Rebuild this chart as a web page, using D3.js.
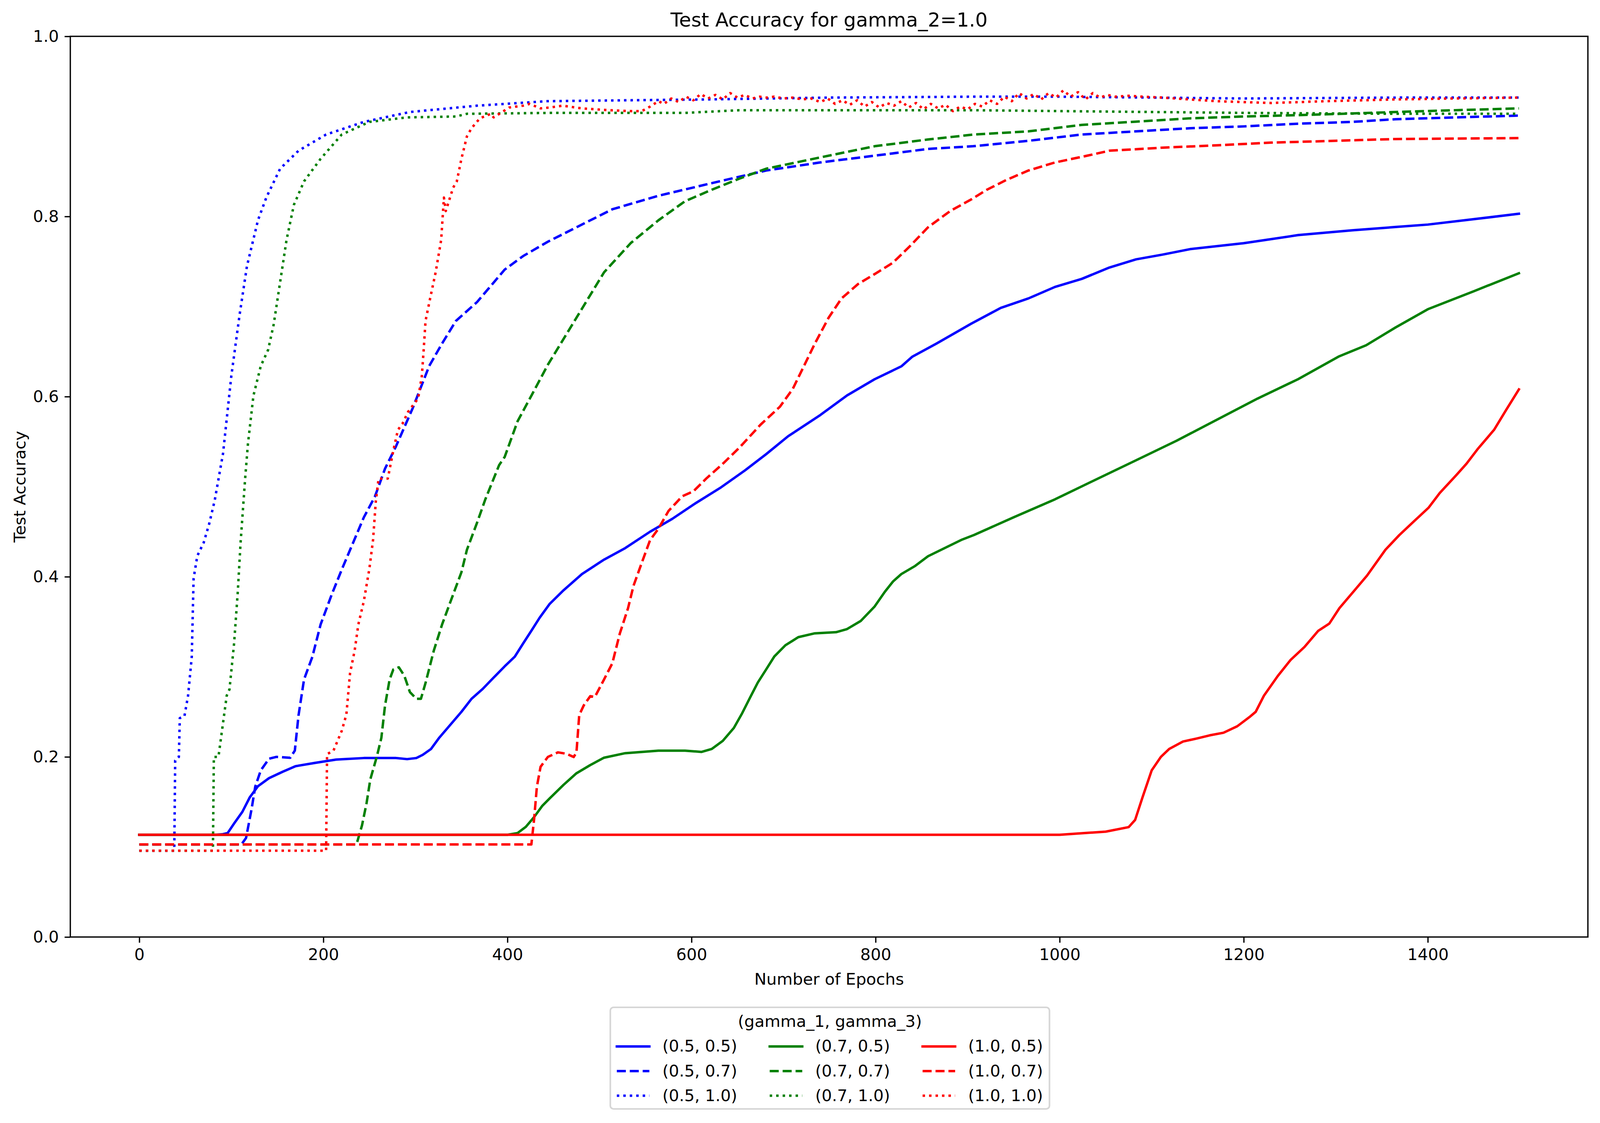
<!DOCTYPE html>
<html>
<head>
<meta charset="utf-8">
<script src="https://cdn.jsdelivr.net/npm/d3@7"></script>
<style>
  html, body { margin: 0; padding: 0; background: #fff; overflow: hidden; }
  svg { display: block; }
  text { font-family: "DejaVu Sans", sans-serif; }
</style>
</head>
<body>
<svg id="chart"></svg>
<script>
// epochs / accuracy, one pair per run
const ep_05_05 = [0, 82, 90, 96, 103, 112, 120, 129, 141, 156, 170, 191, 214, 244, 279, 291, 301, 308, 317, 326, 338, 350, 361, 373, 385, 397, 408, 417, 426, 435, 446, 461, 481, 505, 528, 555, 579, 605, 631, 658, 681, 705, 740, 769, 799, 828, 840, 866, 904, 936, 966, 995, 1024, 1054, 1083, 1112, 1142, 1200, 1259, 1318, 1365, 1400, 1450, 1499];
const acc_05_05 = [0.1135, 0.1135, 0.114, 0.1154, 0.126, 0.139, 0.155, 0.1675, 0.1764, 0.1836, 0.1897, 0.1933, 0.197, 0.1987, 0.1987, 0.1975, 0.1987, 0.2023, 0.2088, 0.2214, 0.2357, 0.25, 0.2645, 0.2753, 0.288, 0.3005, 0.3113, 0.3258, 0.34, 0.3545, 0.37, 0.385, 0.403, 0.419, 0.4318, 0.45, 0.4642, 0.482, 0.4985, 0.518, 0.536, 0.556, 0.5796, 0.6013, 0.6193, 0.6336, 0.6444, 0.6588, 0.681, 0.6985, 0.709, 0.7218, 0.7307, 0.7433, 0.7524, 0.7577, 0.7638, 0.7703, 0.7793, 0.7847, 0.7883, 0.791, 0.797, 0.803];

const ep_05_07 = [0, 111, 116, 122, 126, 132, 141, 149, 164, 169, 173, 179, 188, 197, 209, 220, 232, 244, 256, 267, 279, 297, 315, 329, 344, 367, 397, 417, 444, 475, 514, 564, 622, 681, 740, 799, 857, 906, 966, 1024, 1083, 1142, 1200, 1259, 1318, 1365, 1430, 1499];
const acc_05_07 = [0.1028, 0.1028, 0.11, 0.142, 0.167, 0.185, 0.198, 0.2, 0.199, 0.207, 0.246, 0.286, 0.311, 0.347, 0.38, 0.408, 0.437, 0.466, 0.489, 0.52, 0.545, 0.587, 0.634, 0.659, 0.684, 0.705, 0.741, 0.756, 0.772, 0.788, 0.808, 0.823, 0.837, 0.851, 0.86, 0.8675, 0.875, 0.878, 0.884, 0.891, 0.8945, 0.898, 0.9, 0.903, 0.905, 0.908, 0.91, 0.912];

const ep_05_10 = [0, 38, 39, 43, 44, 49, 53, 57, 59, 63, 70, 76, 82, 91, 100, 109, 117, 129, 138, 153, 173, 203, 244, 294, 367, 443, 530, 622, 750, 905, 1000, 1100, 1200, 1366, 1499];
const acc_05_10 = [0.0958, 0.0958, 0.196, 0.2, 0.243, 0.245, 0.268, 0.311, 0.398, 0.423, 0.438, 0.459, 0.485, 0.537, 0.623, 0.691, 0.745, 0.796, 0.821, 0.853, 0.873, 0.891, 0.905, 0.916, 0.923, 0.928, 0.929, 0.93, 0.932, 0.933, 0.933, 0.932, 0.931, 0.932, 0.932];

const ep_07_05 = [0, 400, 411, 420, 429, 438, 446, 461, 475, 490, 505, 528, 564, 593, 611, 622, 634, 646, 655, 663, 672, 681, 690, 702, 716, 734, 757, 769, 784, 799, 810, 819, 828, 843, 857, 875, 893, 907, 951, 995, 1039, 1083, 1127, 1171, 1215, 1259, 1303, 1333, 1365, 1400, 1450, 1499];
const acc_07_05 = [0.1135, 0.1135, 0.1154, 0.1223, 0.1332, 0.1458, 0.154, 0.169, 0.1818, 0.1909, 0.1991, 0.2041, 0.2069, 0.2069, 0.2055, 0.2088, 0.2178, 0.2321, 0.2484, 0.2646, 0.2825, 0.2969, 0.3115, 0.3239, 0.3329, 0.3372, 0.3384, 0.3419, 0.351, 0.367, 0.3832, 0.3948, 0.403, 0.412, 0.4228, 0.4318, 0.4408, 0.4464, 0.4664, 0.486, 0.5077, 0.5293, 0.551, 0.5744, 0.5978, 0.6193, 0.6444, 0.657, 0.6768, 0.697, 0.717, 0.737];

const ep_07_07 = [0, 236, 242, 247, 251, 258, 263, 267, 272, 276, 282, 288, 294, 301, 306, 311, 320, 329, 338, 350, 356, 367, 376, 391, 397, 411, 426, 444, 475, 505, 534, 564, 593, 622, 652, 681, 740, 799, 857, 907, 966, 1024, 1083, 1142, 1200, 1259, 1318, 1365, 1430, 1499];
const acc_07_07 = [0.1028, 0.1028, 0.124, 0.149, 0.175, 0.2, 0.221, 0.257, 0.286, 0.297, 0.2995, 0.29, 0.272, 0.2645, 0.2645, 0.282, 0.318, 0.347, 0.372, 0.405, 0.43, 0.46, 0.486, 0.524, 0.533, 0.5726, 0.601, 0.6355, 0.6876, 0.738, 0.7705, 0.7957, 0.817, 0.8297, 0.842, 0.853, 0.8656, 0.878, 0.8855, 0.891, 0.8945, 0.9017, 0.9053, 0.909, 0.911, 0.9125, 0.9144, 0.916, 0.918, 0.92];

const ep_07_10 = [0, 80, 81, 86, 95, 98, 103, 107, 110, 115, 118, 124, 132, 140, 146, 153, 160, 168, 179, 197, 220, 250, 291, 344, 356, 446, 593, 652, 780, 905, 1000, 1100, 1200, 1366, 1499];
const acc_07_10 = [0.0958, 0.0958, 0.2, 0.2, 0.268, 0.275, 0.326, 0.383, 0.437, 0.509, 0.547, 0.601, 0.634, 0.652, 0.68, 0.727, 0.774, 0.813, 0.839, 0.864, 0.891, 0.905, 0.91, 0.911, 0.914, 0.915, 0.915, 0.918, 0.918, 0.918, 0.917, 0.916, 0.915, 0.914, 0.914];

const ep_10_05 = [0, 1000, 1050, 1075, 1082, 1090, 1100, 1110, 1119, 1134, 1149, 1163, 1178, 1193, 1207, 1213, 1222, 1237, 1251, 1266, 1281, 1293, 1304, 1319, 1334, 1354, 1369, 1384, 1401, 1413, 1431, 1442, 1454, 1472, 1485, 1499];
const acc_10_05 = [0.1135, 0.1135, 0.117, 0.122, 0.13, 0.155, 0.185, 0.2, 0.2088, 0.217, 0.2204, 0.2239, 0.2268, 0.234, 0.2448, 0.25, 0.268, 0.2898, 0.3077, 0.322, 0.34, 0.348, 0.3652, 0.3832, 0.4013, 0.43, 0.4462, 0.4606, 0.4768, 0.493, 0.5128, 0.5254, 0.5415, 0.5631, 0.585, 0.608];

const ep_10_07 = [0, 426, 429, 432, 436, 444, 455, 464, 472, 475, 478, 483, 490, 495, 505, 514, 522, 531, 537, 546, 555, 564, 575, 590, 602, 616, 634, 652, 675, 696, 710, 722, 734, 749, 763, 781, 799, 819, 837, 857, 881, 904, 921, 942, 966, 995, 1030, 1054, 1112, 1171, 1230, 1289, 1365, 1430, 1499];
const acc_10_07 = [0.1028, 0.1028, 0.131, 0.167, 0.189, 0.2, 0.205, 0.2035, 0.1998, 0.205, 0.2464, 0.2573, 0.2674, 0.2665, 0.286, 0.304, 0.3366, 0.365, 0.39, 0.4156, 0.4407, 0.4533, 0.473, 0.4894, 0.4948, 0.509, 0.5254, 0.5433, 0.5688, 0.5887, 0.6085, 0.6336, 0.6588, 0.6876, 0.709, 0.725, 0.736, 0.7488, 0.7667, 0.788, 0.806, 0.819, 0.8297, 0.8405, 0.851, 0.86, 0.8675, 0.873, 0.8764, 0.879, 0.882, 0.8837, 0.886, 0.8865, 0.887];

const ep_10_10 = [0, 203, 204, 211, 220, 225, 229, 234, 238, 244, 250, 254, 257, 260, 263, 270, 276, 281, 286, 292, 303, 307, 309, 311, 316, 322, 328, 331, 333, 341, 345, 350, 356, 361, 370, 382, 385, 402, 417, 424, 436, 446, 460, 481, 510, 534, 546, 555, 564,
  570, 578, 586, 594, 602, 610, 618, 626, 634, 642, 650, 658, 666, 674, 682, 690, 700, 710, 720, 730, 740, 748, 756, 764, 772, 780, 788, 796, 804, 812, 820, 828, 836, 844, 852, 860, 868, 876, 884, 892, 900, 908, 916, 924, 932, 940, 948, 956, 964, 972, 980, 988, 996, 1004, 1012, 1020, 1028, 1036, 1044, 1052, 1060,
  1075, 1090, 1112, 1140, 1171, 1200, 1230, 1260, 1288, 1330, 1366, 1430, 1499];
const acc_10_10 = [0.0958, 0.0958, 0.203, 0.207, 0.229, 0.247, 0.293, 0.318, 0.347, 0.373, 0.409, 0.441, 0.484, 0.509, 0.509, 0.509, 0.54, 0.563, 0.57, 0.583, 0.598, 0.623, 0.652, 0.684, 0.709, 0.738, 0.774, 0.821, 0.806, 0.832, 0.839, 0.864, 0.889, 0.898, 0.909, 0.914, 0.91, 0.921, 0.923, 0.925, 0.92, 0.921, 0.923, 0.92, 0.918, 0.917, 0.917, 0.922, 0.928,
  0.925, 0.931, 0.927, 0.933, 0.929, 0.936, 0.931, 0.935, 0.93, 0.937, 0.932, 0.935, 0.931, 0.933, 0.932, 0.933, 0.931, 0.932, 0.93, 0.931, 0.927, 0.931, 0.925, 0.929, 0.924, 0.929, 0.922, 0.927, 0.921, 0.926, 0.923, 0.928, 0.921, 0.926, 0.919, 0.925, 0.92, 0.924, 0.917, 0.922, 0.919, 0.925, 0.922, 0.929, 0.925, 0.933, 0.928, 0.937, 0.931, 0.936, 0.93, 0.937, 0.932, 0.94, 0.933, 0.938, 0.93, 0.937, 0.932, 0.935, 0.933,
  0.934, 0.933, 0.932, 0.93, 0.928, 0.927, 0.926, 0.927, 0.928, 0.929, 0.93, 0.931, 0.932];

const labels = ["(0.5, 0.5)", "(0.5, 0.7)", "(0.5, 1.0)", "(0.7, 0.5)", "(0.7, 0.7)", "(0.7, 1.0)", "(1.0, 0.5)", "(1.0, 0.7)", "(1.0, 1.0)"];
const epochList = [ep_05_05, ep_05_07, ep_05_10, ep_07_05, ep_07_07, ep_07_10, ep_10_05, ep_10_07, ep_10_10];
const accList = [acc_05_05, acc_05_07, acc_05_10, acc_07_05, acc_07_07, acc_07_10, acc_10_05, acc_10_07, acc_10_10];
const xTicks = [0, 200, 400, 600, 800, 1000, 1200, 1400];
const yTicks = [0.0, 0.2, 0.4, 0.6, 0.8, 1.0];

// styles (matplotlib look: lw 1.5pt at 300 dpi)
const colorOf = ["#0000ff", "#0000ff", "#0000ff", "#008000", "#008000", "#008000", "#ff0000", "#ff0000", "#ff0000"];
const dashOf = [null, "23.1,10", "6.25,10.3", null, "23.1,10", "6.25,10.3", null, "23.1,10", "6.25,10.3"];

(function () {
  // fit the real viewport; margins kept in px like the reference figure
  var W = window.innerWidth || document.documentElement.clientWidth || 4864;
  var H = window.innerHeight || document.documentElement.clientHeight || 2874;
  var sy = H / 2874;
  var pL = 180, pR = W - 31, pT = 93 * sy, pB = 2398 * sy;
  var fs = 41.67, lw = 6.25, tick = 14.6;

  var svg = d3.select('#chart').attr('width', W).attr('height', H);
  svg.append('rect').attr('width', W).attr('height', H).attr('fill', '#fff');

  var x = d3.scaleLinear().domain([-74.95, 1573.95]).range([pL, pR]);
  var y = d3.scaleLinear().domain([0, 1]).range([pB, pT]);

  svg.append('clipPath').attr('id', 'clip')
    .append('rect').attr('x', pL).attr('y', pT).attr('width', pR - pL).attr('height', pB - pT);

  var line = d3.line().x(function (d) { return x(d[0]); }).y(function (d) { return y(d[1]); });

  var g = svg.append('g').attr('clip-path', 'url(#clip)');
  epochList.forEach(function (ep, i) {
    var pts = ep.map(function (e, j) { return [e, accList[i][j]]; });
    g.append('path')
      .attr('d', line(pts))
      .attr('fill', 'none')
      .attr('stroke', colorOf[i])
      .attr('stroke-width', lw)
      .attr('stroke-linejoin', 'round')
      .attr('stroke-linecap', dashOf[i] ? 'butt' : 'square')
      .attr('stroke-dasharray', dashOf[i]);
  });

  // axes
  var xAxis = svg.append('g').attr('transform', 'translate(0,' + pB + ')')
    .call(d3.axisBottom(x).tickValues(xTicks).tickSize(tick).tickPadding(tick).tickFormat(d3.format('d')));
  var yAxis = svg.append('g').attr('transform', 'translate(' + pL + ',0)')
    .call(d3.axisLeft(y).tickValues(yTicks).tickSize(tick).tickPadding(tick).tickFormat(d3.format('.1f')));
  [xAxis, yAxis].forEach(function (a) {
    a.select('.domain').remove();
    a.selectAll('line').attr('stroke', '#000').attr('stroke-width', 3.33);
    a.selectAll('text').attr('font-size', fs).attr('fill', '#000').style('font-family', '"DejaVu Sans"');
  });

  svg.append('rect')
    .attr('x', pL).attr('y', pT).attr('width', pR - pL).attr('height', pB - pT)
    .attr('fill', 'none').attr('stroke', '#000').attr('stroke-width', 3.33);

  // titles
  var cx = (pL + pR) / 2;
  svg.append('text').attr('x', cx).attr('y', pT - 25).attr('text-anchor', 'middle')
    .attr('font-size', 50).text('Test Accuracy for gamma_2=1.0');
  svg.append('text').attr('x', cx).attr('y', pB + 122).attr('text-anchor', 'middle')
    .attr('font-size', fs).text('Number of Epochs');
  svg.append('text').attr('transform', 'translate(65,' + ((pT + pB) / 2) + ') rotate(-90)')
    .attr('text-anchor', 'middle').attr('font-size', fs).text('Test Accuracy');

  // legend, 3 columns filled column-wise, hung below the x label
  var leg = svg.append('g');
  var frame = leg.append('rect');
  var handleLen = 83.3, pad = 33.3, colGap = 83.3, border = 16.7;
  var lt = pB + 180;
  var rowY = [lt + 100, lt + 163, lt + 226], rowBase = [lt + 113, lt + 177, lt + 240];

  var tmp = leg.append('text').attr('font-size', fs).text(labels[0]);
  var labW = tmp.node().getComputedTextLength();
  tmp.remove();
  var colW = handleLen + pad + labW;
  var totalW = colW * 3 + colGap * 2;
  var lx0 = cx + 2 - totalW / 2;

  labels.forEach(function (lab, i) {
    var col = Math.floor(i / 3), row = i % 3;
    var hx = lx0 + col * (colW + colGap);
    leg.append('line')
      .attr('x1', hx).attr('x2', hx + handleLen)
      .attr('y1', rowY[row]).attr('y2', rowY[row])
      .attr('stroke', colorOf[i]).attr('stroke-width', lw)
      .attr('stroke-linecap', dashOf[i] ? 'butt' : 'square')
      .attr('stroke-dasharray', dashOf[i]);
    leg.append('text').attr('x', hx + handleLen + pad).attr('y', rowBase[row])
      .attr('font-size', fs).text(lab);
  });
  leg.append('text').attr('x', lx0 + totalW / 2).attr('y', lt + 50).attr('text-anchor', 'middle')
    .attr('font-size', fs).text('(gamma_1, gamma_3)');

  frame.attr('x', lx0 - border).attr('y', lt)
    .attr('width', totalW + border * 2).attr('height', 260)
    .attr('rx', 8.3).attr('ry', 8.3)
    .attr('fill', '#fff').attr('fill-opacity', 0.8)
    .attr('stroke', '#cccccc').attr('stroke-opacity', 0.8).attr('stroke-width', 4.17);
})();
</script>
</body>
</html>
